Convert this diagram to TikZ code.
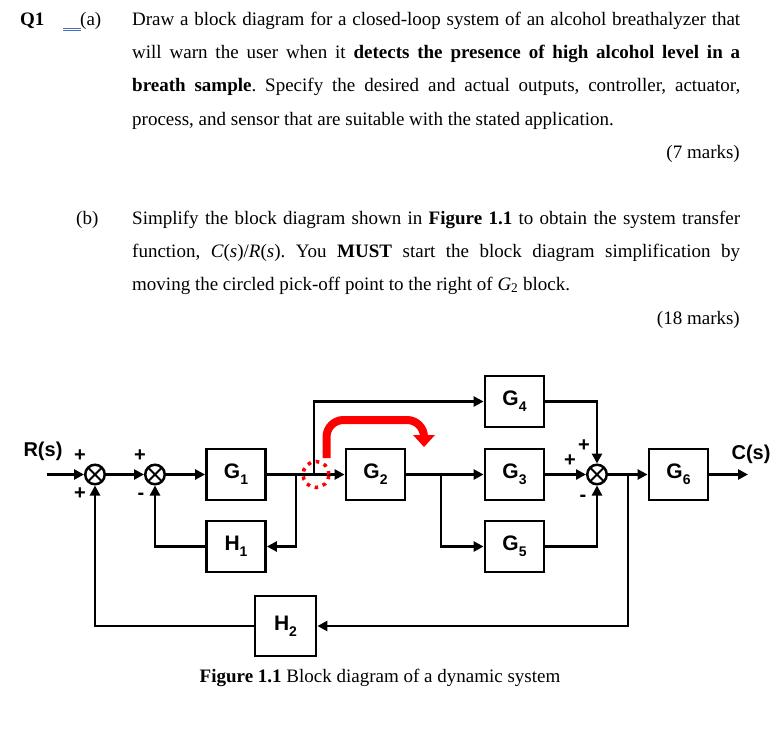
\documentclass[tikz,border=0pt]{standalone}
\usepackage{fontspec}
\setmainfont{Liberation Serif}
\newfontfamily\arialfont{Liberation Sans}
\usetikzlibrary{arrows.meta}
\newcommand{\blk}[2]{#1\raisebox{-0.3em}{\fontsize{14}{14}\selectfont #2}}
\newcommand{\jline}[1]{\makebox[608pt][s]{#1}}
\definecolor{ulblue}{HTML}{4472C4}
\tikzset{
  blockbox/.style={draw, line width=2.8pt, minimum width=59pt, minimum height=51pt, inner sep=0pt,
    font=\arialfont\bfseries\fontsize{21}{21}\selectfont},
  sumj/.style={circle, draw, line width=2.5pt, minimum size=19.5pt, inner sep=0pt,
    path picture={\draw[line width=2pt] (path picture bounding box.north west) -- (path picture bounding box.south east)
      (path picture bounding box.north east) -- (path picture bounding box.south west);}},
  arr/.style={line width=2.8pt, -{Triangle[length=10pt,width=10pt]}},
  sgn/.style={inner sep=0pt, font=\arialfont\bfseries\fontsize{20}{20}\selectfont},
  lbl/.style={inner sep=0pt, font=\arialfont\bfseries\fontsize{20}{20}\selectfont},
  txt/.style={anchor=base west, inner sep=0pt, font=\fontsize{19}{22}\selectfont},
  txte/.style={anchor=base east, inner sep=0pt, font=\fontsize{19}{22}\selectfont},
}
\begin{document}
\frenchspacing
\begin{tikzpicture}[x=1pt,y=-1pt]
\useasboundingbox (0,0) rectangle (784,749);
\fill[white] (0,0) rectangle (784,749);
% ---------- text of the question ----------
\node[txt] (q1) at (20,26) {\textbf{Q1}};
\node[txt] (pa) at (80,26) {(a)};
\draw[ulblue, line width=0.7pt] (63,28) -- (81,28) (63,30) -- (81,30);
\node[txt] (a1) at (132,26) {\jline{Draw a block diagram for a closed-loop system of an alcohol breathalyzer that}};
\node[txt] (a2) at (132,59) {\jline{will warn the user when it \textbf{detects the presence of high alcohol level in a}}};
\node[txt] (a3) at (132,92) {\jline{\textbf{breath sample}. Specify the desired and actual outputs, controller, actuator,}};
\node[txt] (a4) at (132,125) {process, and sensor that are suitable with the stated application.};
\node[txte] (am) at (740,158) {(7 marks)};
\node[txt] (pb) at (76,224) {(b)};
\node[txt] (b1) at (132,224) {\jline{Simplify the block diagram shown in \textbf{Figure 1.1} to obtain the system transfer}};
\node[txt] (b2) at (132,257) {\jline{function, \textit{C}(\textit{s})/\textit{R}(\textit{s}). You \textbf{MUST} start the block diagram simplification by}};
\node[txt] (b3) at (132,290) {moving the circled pick-off point to the right of \textit{G}\textsubscript{2} block.};
\node[txte] (bm) at (740,324) {(18 marks)};
% ---------- block diagram ----------
\node[sumj] (s1) at (95,474.5) {};
\node[sumj] (s2) at (155,474.5) {};
\node[blockbox] (G1) at (236,474.5) {\blk{G}{1}};
\node[blockbox] (H1) at (236,546.5) {\blk{H}{1}};
\node[blockbox] (G2) at (375.5,474.5) {\blk{G}{2}};
\node[blockbox] (G4) at (514.5,401.5) {\blk{G}{4}};
\node[blockbox] (G3) at (514.5,474.5) {\blk{G}{3}};
\node[blockbox] (G5) at (514.5,546.5) {\blk{G}{5}};
\node[sumj] (s3) at (597,474.5) {};
\node[blockbox] (G6) at (678.5,474.5) {\blk{G}{6}};
\node[blockbox, minimum width=61pt, minimum height=60pt] (H2) at (285.5,626) {\blk{H}{2}};
\coordinate (in) at (47,474.5);
\coordinate (p1) at (296,474.5);
\coordinate (p2) at (314,474.5);
\coordinate (p3) at (441,474.5);
\coordinate (p4) at (628,474.5);
\coordinate (out) at (748,474.5);
\draw[arr] (in) -- (s1);
\draw[arr] (s1) -- (s2);
\draw[arr] (s2) -- (G1);
\draw[arr] (G1) -- (G2);
\draw[arr] (p1) |- (H1);
\draw[arr] (H1) -| (s2);
\draw[arr] (p2) |- (G4);
\draw[arr] (G2) -- (G3);
\draw[arr] (p3) |- (G5);
\draw[arr] (G4) -| (s3);
\draw[arr] (G3) -- (s3);
\draw[arr] (G5) -| (s3);
\draw[arr] (s3) -- (G6);
\draw[arr] (p4) |- (H2);
\draw[arr] (H2) -| (s1);
\draw[arr] (G6) -- (out);
% labels and signs
\node[lbl] (R) at (43,451) {R(s)};
\node[lbl] (C) at (751,454) {C(s)};
\node[sgn] (sa) at (80,456) {+};
\node[sgn] (sb) at (80,494) {+};
\node[sgn] (sc) at (140,456) {+};
\node[sgn] (sd) at (141,496) {-};
\node[sgn] (se) at (584,446) {+};
\node[sgn] (sf) at (570,461) {+};
\node[sgn] (sg) at (583,498) {-};
% red marks
\draw[red, line width=3.5pt, dash pattern=on 3.5pt off 5pt] (316,474.5) circle (13pt);
\draw[red, line width=8pt, rounded corners=17pt] (326.5,458) -- (326.5,420) -- (424,420) -- (424,436);
\fill[red] (413,435) -- (435,435) -- (424,447) -- cycle;
% caption
\node[anchor=base, inner sep=0pt, font=\fontsize{19}{22}\selectfont] (cap) at (380,682) {\textbf{Figure 1.1} Block diagram of a dynamic system};
\end{tikzpicture}
\end{document}
